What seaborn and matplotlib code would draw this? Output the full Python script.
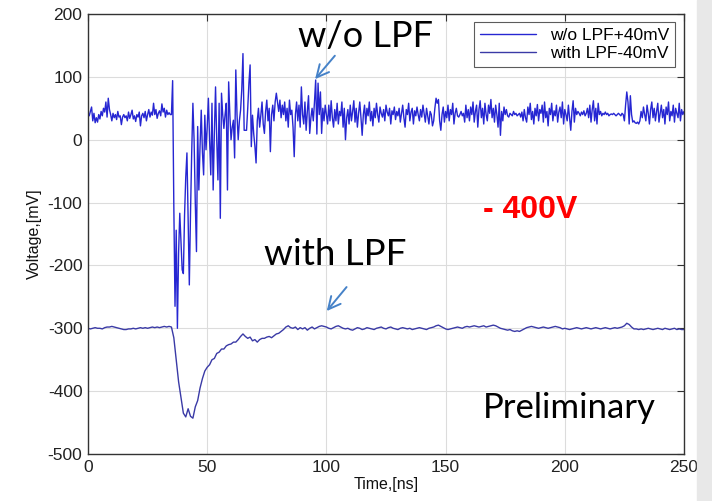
import numpy as np
import pandas as pd
import matplotlib
matplotlib.use("Agg")
import matplotlib.pyplot as plt
import seaborn as sns
from matplotlib.patches import Rectangle

# sinal sem filtro (+40mV), amostrado a cada 0.5 ns, de 0 a 250 ns
sem_lpf = [
    40, 38, 45, 52, 30, 42, 27, 35, 28, 40,
    33, 45, 38, 50, 44, 60, 36, 66, 48, 40,
    30, 42, 35, 40, 32, 45, 36, 38, 24, 36,
    40, 35, 38, 30, 44, 34, 40, 47, 33, 38,
    29, 40, 36, 44, 22, 38, 42, 35, 45, 30,
    40, 48, 36, 44, 39, 58, 40, 48, 34, 42,
    46, 38, 57, 44, 50, 36, 47, 40, 43, 40,
    # 35 - 70 ns
    40, 94, -106, -265, -144, -300, -180, -117, -160, -207,
    -213, -120, -60, -21, -130, -231, -117, -20, 58, 0,
    -100, -178, 21, -80, -10, 47, -20, -56, 39, -16,
    20, 66, 0, -56, 58, -80, 10, 84, 0, -64,
    58, -125, 74, 40, 18, 40, 58, -80, 92, 40,
    0, 20, 31, -29, 111, 40, 0, 30, 47, 80,
    137, 15, 15, 15, 50, 90, 119, -11, 39, 10,
    # 70 - 100 ns
    -10, -37, 30, 50, 20, 39, 60, 25, 10, 45,
    63, 30, 50, -19, 40, 55, 30, 60, 74, 60,
    45, 63, 35, 55, 40, 60, 30, 50, 20, 63,
    40, 47, 20, -27, 40, 60, 30, 55, 20, 84,
    40, 25, 60, 15, 45, 70, 10, 35, 50, 30,
    60, 95, 9, 90, 40, 76, 10, 50, 30, 55,
    # 100 - 250 ns
    40, 25, 55, 30, 62, 35, 20, 48, 30, 58, 25, 45, 38, 60, 20, 50, 0, 35, 48, 25,
    55, 30, 45, 62, 28, 50, 20, 42, 60, 35, 7, 40, 55, 25, 50, 38, 60, 30, 45, 22,
    50, 35, 58, 40, 28, 52, 42, 36, 48, 30, 55, 44, 38, 50, 25, 46, 40, 52, 32, 45,
    38, 50, 28, 42, 55, 35, 20, 48, 40, 58, 30, 44, 50, 25, 46, 38, 52, 40, 30, 48,
    36, 55, 42, 28, 50, 38, 25, 45, 40, 22, 30, 50, 66, 58, 64, 30, 15, 40, 52, 28,
    45, 35, 55, 30, 48, 40, 58, 25, 42, 50, 38, 36, 40, 45, 38, 42, 28, 55, 35, 48,
    30, 52, 40, 60, 28, 45, 55, 20, 48, 62, 35, 50, 25, 58, 40, 30, 55, 42, 64, 35,
    50, 28, 55, 40, 20, 58, 7, 45, 30, 52, 40, 48, 38, 36, 42, 40, 38, 45, 40, 42,
    38, 40, 42, 36, 44, 30, 48, 35, 28, 52, 40, 58, 32, 45, 25, 50, 38, 56, 30, 48,
    42, 55, 28, 60, 35, 45, 22, 50, 40, 58, 30, 46, 38, 55, 28, 44, 52, 35, 60, 25,
    48, 40, 30, 55, 35, 15, 45, 62, 28, 50, 40, 45, 42, 38, 44, 40, 46, 38, 42, 50,
    35, 55, 28, 48, 62, 30, 50, 25, 58, 40, 45, 38, 42, 40, 44, 40, 42, 38, 40, 41,
    40, 42, 40, 38, 40, 42, 40, 38, 42, 40, 30, 55, 76, 60, 25, 70, 40, 28, 30, 27,
    26, 28, 25, 30, 45, 35, 52, 40, 30, 55, 42, 25, 48, 60, 35, 50, 30, 45, 58, 28,
    42, 55, 35, 48, 25, 52, 40, 60, 30, 45, 38, 55, 28, 50, 42, 35, 58, 30, 48, 40,
    45,
]

# sinal com filtro (-40mV), amostrado a cada 1 ns
com_lpf = [
    -300, -301, -300, -299, -300, -300, -301, -299, -298, -298,
    -297, -298, -299, -300, -301, -302, -302, -301, -301, -300,
    -301, -300, -299, -300, -299, -300, -299, -298, -299, -298,
    -299, -298, -297, -298, -297,
    -298, -315, -350, -385, -410, -435, -441, -428, -440, -443,
    -425, -415, -395, -380, -368, -362, -358, -350, -348, -340,
    -338, -333, -333, -328, -326, -325, -322, -322, -318, -313,
    -309, -313, -316, -314, -320, -318, -322, -318, -316, -316,
    -314, -313, -315, -312, -309, -308, -305, -302, -298, -296,
    -299, -300, -298, -302, -299, -301, -299, -303, -300, -298,
    -301, -299, -297, -296, -297,
    -298, -300, -301, -299, -297, -296, -298, -300, -301, -300,
    -302, -303, -301, -299, -300, -302, -301, -299, -300, -301,
    -302, -300, -299, -298, -300, -301, -299, -298, -300, -301,
    -302, -300, -299, -300, -301, -300, -302, -301, -300, -299,
    -300, -301, -302, -300, -299, -298, -296, -295, -297, -299,
    -301, -302, -301, -300, -299, -298, -299, -300, -298, -297,
    -298, -297, -296, -297, -298, -297, -296, -298, -297, -296,
    -295, -296, -298, -300, -301, -302, -303, -302, -304, -305,
    -304, -305, -303, -301, -299, -298, -297, -298, -299, -300,
    -299, -298, -299, -300, -299, -298, -297, -298, -299, -301,
    -300, -301, -302, -301, -300, -299, -300, -301, -300, -299,
    -300, -301, -300, -299, -300, -301, -300, -299, -300, -301,
    -300, -299, -300, -299, -298, -296, -292, -294, -298, -301,
    -301, -302, -301, -302, -301, -300, -301, -302, -301, -300,
    -301, -302, -300, -301, -302, -301, -300, -302, -301, -302,
    -302,
]

tempo_sem = np.linspace(0, 250, len(sem_lpf))
tempo_com = np.linspace(0, 250, len(com_lpf))

sns.set_style("white")
plt.rcParams['font.family'] = ['Liberation Sans', 'DejaVu Sans']
plt.rcParams['axes.unicode_minus'] = False
plt.rcParams['text.color'] = 'black'
plt.rcParams['axes.labelcolor'] = '#111111'
plt.rcParams['xtick.color'] = '#222222'
plt.rcParams['ytick.color'] = '#222222'

fig = plt.figure(figsize=(7.12, 5.01), dpi=100)
fig.patches.append(Rectangle((697 / 712, 0), 15 / 712, 1, transform=fig.transFigure,
                             color='#e8e8e8', zorder=0))
ax = fig.add_axes([88 / 712, 1 - 454 / 501, 596 / 712, 440 / 501])

sns.lineplot(x=tempo_sem, y=sem_lpf, ax=ax, color='#2626d2', linewidth=1.0,
             label='w/o LPF+40mV')
sns.lineplot(x=tempo_com, y=com_lpf, ax=ax, color='#3a3aa6', linewidth=1.0,
             label='with LPF-40mV')

ax.set_xlim(0, 250)
ax.set_ylim(-500, 200)
ax.set_xticks([0, 50, 100, 150, 200, 250])
ax.set_yticks([-500, -400, -300, -200, -100, 0, 100, 200])
ax.grid(True, color='#dcdcdc', linewidth=0.8)
ax.tick_params(direction='in', length=5, top=True, right=True, labelsize=12.5,
               color='#333333', pad=4)
for s in ax.spines.values():
    s.set_color('#333333')
    s.set_linewidth(1.0)

ax.set_xlabel('Time,[ns]', fontsize=11.5, labelpad=2)
ax.set_ylabel('Voltage,[mV]', fontsize=11.5, labelpad=4)

leg = ax.legend(loc='upper right', fontsize=12.5, frameon=True, fancybox=False,
                handlelength=3.2, borderpad=0.35, labelspacing=0.15,
                bbox_to_anchor=(0.985, 0.982), borderaxespad=0)
leg.get_frame().set_edgecolor('#333333')
leg.get_frame().set_linewidth(0.8)

# anotações do slide
ax.text(88, 147, 'w/o LPF', fontsize=26, family='Lato', ha='left', va='baseline')
ax.text(74, -199, 'with LPF', fontsize=26.5, family='Lato', ha='left', va='baseline')
ax.text(165.8, -443, 'Preliminary', fontsize=25, family='Lato', ha='left', va='baseline')
ax.text(165.8, -125, '- 400V', fontsize=23, fontweight='bold', color='#ff0000',
        ha='left', va='baseline')

seta = dict(arrowstyle='->', color='#4682c8', lw=1.4, mutation_scale=22)
ax.annotate('', xy=(94.5, 93), xytext=(104.3, 137), arrowprops=seta)
ax.annotate('', xy=(99.4, -276), xytext=(109.2, -231), arrowprops=seta)

fig.savefig('out.png', dpi=100)
